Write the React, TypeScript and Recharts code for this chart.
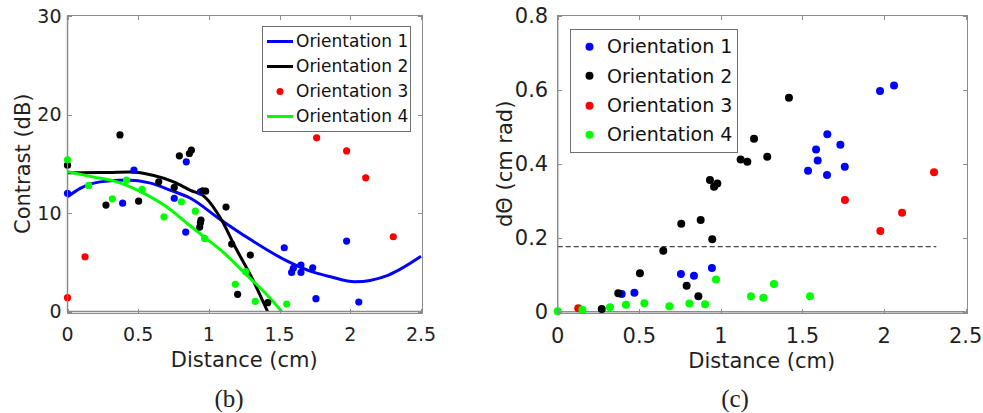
import { ComposedChart, Legend, Line, Scatter, XAxis, YAxis } from "recharts";

// ---- panel (b): contrast vs distance ----
const CONTRAST_O1 = [
    [0, 12.0], [0.39, 11.0], [0.47, 14.35], [0.755, 11.5], [0.836, 8.06], [0.84, 15.2],
    [0.94, 12.15], [1.533, 6.47], [1.585, 3.97], [1.597, 4.38], [1.651, 4.72], [1.651, 3.97],
    [1.734, 4.44], [1.757, 1.3], [1.974, 7.15], [2.06, 0.96],
];
const CONTRAST_O2 = [
    [0, 14.86], [0.272, 10.8], [0.371, 17.93], [0.503, 11.2], [0.645, 13.16], [0.755, 12.6],
    [0.791, 15.8], [0.862, 16.04], [0.876, 16.38], [0.935, 8.57], [0.94, 9.0], [0.944, 9.28],
    [0.956, 12.25], [0.977, 12.22], [1.121, 10.6], [1.161, 6.85], [1.203, 1.74], [1.293, 5.73],
    [1.416, 0.9],
];
const CONTRAST_O3 = [
    [0, 1.4], [0.124, 5.56], [1.762, 17.63], [1.974, 16.3], [2.109, 13.57], [2.304, 7.59],
];
const CONTRAST_O4 = [
    [0, 15.4], [0.15, 12.8], [0.317, 11.44], [0.418, 13.34], [0.527, 12.39], [0.682, 9.61],
    [0.805, 11.14], [0.904, 10.19], [0.97, 7.42], [1.187, 2.76], [1.26, 4.04], [1.328, 1.03],
    [1.55, 0.76],
];
// fitted curves
const FIT_O1 = [
    [0, 11.64], [0.09, 12.5], [0.23, 13.16], [0.42, 13.34], [0.58, 13.06], [0.73, 12.3],
    [0.87, 11.5], [1.07, 9.45], [1.3, 7.25], [1.54, 5.22], [1.75, 3.94], [1.86, 3.53],
    [2.03, 3.02], [2.27, 3.7], [2.5, 5.6],
];
const FIT_O2 = [
    [0, 14.08], [0.23, 14.1], [0.44, 14.15], [0.61, 13.8], [0.75, 13.16], [0.87, 12.3],
    [0.97, 11.64], [1.09, 9.28], [1.185, 6.57], [1.3, 3.53], [1.415, 0],
];
const FIT_O4 = [
    [0, 14.2], [0.18, 13.67], [0.35, 13.16], [0.54, 11.99], [0.7, 10.63], [0.85, 8.9],
    [0.97, 7.52], [1.11, 5.9], [1.255, 3.87], [1.4, 1.85], [1.515, 0],
];

// ---- panel (c): dTheta vs distance ----
const THETA_O1 = [
    [0.392, 0.048], [0.47, 0.051], [0.755, 0.102], [0.835, 0.097], [0.945, 0.118],
    [1.534, 0.381], [1.583, 0.439], [1.593, 0.409], [1.65, 0.37], [1.652, 0.48],
    [1.732, 0.452], [1.759, 0.392], [1.975, 0.597], [2.061, 0.612],
];
const THETA_O2 = [
    [0.27, 0.007], [0.371, 0.05], [0.504, 0.104], [0.647, 0.165], [0.757, 0.238], [0.79, 0.07],
    [0.862, 0.042], [0.876, 0.248], [0.933, 0.356], [0.947, 0.196], [0.958, 0.338],
    [0.978, 0.347], [1.121, 0.412], [1.162, 0.406], [1.203, 0.468], [1.284, 0.419],
    [1.417, 0.579],
];
const THETA_O3 = [
    [0.126, 0.009], [1.76, 0.302], [1.977, 0.218], [2.11, 0.268], [2.306, 0.377],
];
const THETA_O4 = [
    [0, 0.001], [0.151, 0.005], [0.32, 0.012], [0.418, 0.019], [0.531, 0.023], [0.684, 0.015],
    [0.807, 0.022], [0.903, 0.02], [0.97, 0.087], [1.184, 0.042], [1.26, 0.038],
    [1.325, 0.075], [1.546, 0.042],
];
const THRESHOLD = [[0, 0.176], [2.32, 0.176]];

const X_TICKS = [0, 0.5, 1, 1.5, 2, 2.5];
const CONTRAST_TICKS = [0, 10, 20, 30];
const THETA_TICKS = [0, 0.2, 0.4, 0.6, 0.8];

const NAMES = ["Orientation 1", "Orientation 2", "Orientation 3", "Orientation 4"];
const COLORS = ["#0000ff", "#000000", "#ff0000", "#00ff00"];

const FONT = "'DejaVu Sans', sans-serif";
const AXIS_GRAY = "#8c8c8c";
const TEXT = "#1f1f1f";

const pts = (rows: number[][]) => rows.map(([x, y]) => ({ x, y }));

const dot = (r: number, fill: string) => (p: any) =>
    <circle cx={p.cx} cy={p.cy} r={r} fill={fill} />;

// plot rectangles; chart margins are derived from these
type Plot = { w: number; h: number; left: number; top: number; right: number; bottom: number; yAxisW: number; xAxisH: number };
const PLOT_B: Plot = { w: 440, h: 413, left: 67.5, top: 16, right: 421, bottom: 311.5, yAxisW: 60, xAxisH: 30 };
const PLOT_C: Plot = { w: 503, h: 413, left: 77.7, top: 16, right: 485.7, bottom: 311.7, yAxisW: 70, xAxisH: 30 };

const marginOf = (p: Plot) => ({
    top: p.top,
    right: p.w - p.right,
    bottom: p.h - p.bottom - p.xAxisH,
    left: p.left - p.yAxisW,
});

// matlab style box (html border) with inward ticks
function Frame({ p, yMax, yTicks }: { p: Plot; yMax: number; yTicks: number[] }) {
    const t = 4;
    const w = p.right - p.left;
    const h = p.bottom - p.top;
    const tick = (style: Record<string, number>, horizontal: boolean, key: string) => (
        <div key={key} style={{ position: "absolute", background: AXIS_GRAY, width: horizontal ? t : 1, height: horizontal ? 1 : t, ...style }} />
    );
    return (
        <div style={{ position: "absolute", left: p.left - 1, top: p.top - 1, width: w + 1, height: h + 1, border: `1px solid ${AXIS_GRAY}`, pointerEvents: "none", zIndex: 2 }}>
            {X_TICKS.map((v) => {
                const x = (v / 2.5) * w;
                return [
                    tick({ left: x, bottom: 0 }, false, `xb${v}`),
                    tick({ left: x, top: 0 }, false, `xt${v}`),
                ];
            })}
            {yTicks.map((v) => {
                const y = h - (v / yMax) * h;
                return [
                    tick({ left: 0, top: y }, true, `yl${v}`),
                    tick({ right: 0, top: y }, true, `yr${v}`),
                ];
            })}
        </div>
    );
}

type LegendRow = { name: string; color: string; kind: "line" | "dot" };

function LegendBox({ rows, fontSize, rowH, iconW, dotR }: { rows: LegendRow[]; fontSize: number; rowH: number; iconW: number; dotR: number }) {
    return (
        <div style={{ background: "#fff", border: "1px solid #6f6f6f", padding: "2px 4px 2px 3px", fontFamily: FONT, fontSize, color: "#111", lineHeight: 1 }}>
            {rows.map((r) => (
                <div key={r.name} style={{ display: "flex", alignItems: "center", height: rowH, whiteSpace: "nowrap" }}>
                    <svg width={iconW} height={rowH} style={{ flex: "none" }}>
                        {r.kind === "line" ? (
                            <line x1={1} x2={iconW - 3} y1={rowH / 2} y2={rowH / 2} stroke={r.color} strokeWidth={3} />
                        ) : (
                            <circle cx={(iconW - 2) / 2} cy={rowH / 2} r={dotR} fill={r.color} />
                        )}
                    </svg>
                    <span>{r.name}</span>
                </div>
            ))}
        </div>
    );
}

function ContrastPanel() {
    const rows: LegendRow[] = NAMES.map((name, i) => ({ name, color: COLORS[i], kind: i === 2 ? "dot" : "line" }));
    const series = [CONTRAST_O1, CONTRAST_O2, CONTRAST_O3, CONTRAST_O4];
    const fits = [FIT_O1, FIT_O2, null, FIT_O4];
    const p = PLOT_B;
    return (
        <div style={{ position: "relative", width: p.w, height: p.h }}>
            <ComposedChart width={p.w} height={p.h} margin={marginOf(p)}>
                <XAxis
                    dataKey="x" type="number" domain={[0, 2.5]} ticks={X_TICKS}
                    height={p.xAxisH} tickSize={0} tickMargin={16} tickLine={false}
                    axisLine={{ stroke: AXIS_GRAY, strokeWidth: 1.5 }}
                    tick={{ fontSize: 19, fill: TEXT, fontFamily: FONT }}
                    label={{ value: "Distance (cm)", position: "bottom", offset: 11, fontSize: 21, fill: TEXT, fontFamily: FONT }}
                />
                <YAxis
                    dataKey="y" type="number" domain={[0, 30]} ticks={CONTRAST_TICKS}
                    width={p.yAxisW} tickSize={0} tickMargin={6} tickLine={false}
                    axisLine={{ stroke: AXIS_GRAY, strokeWidth: 1.5 }}
                    tick={{ fontSize: 19, fill: TEXT, fontFamily: FONT }}
                    label={{ value: "Contrast (dB)", angle: -90, position: "insideLeft", offset: 15.5, fontSize: 21, fill: TEXT, fontFamily: FONT, style: { textAnchor: "middle" } }}
                />
                {fits.map((f, i) =>
                    f ? (
                        <Line key={`fit${i}`} data={pts(f)} dataKey="y" type="monotone" stroke={COLORS[i]} strokeWidth={3}
                            dot={false} activeDot={false} isAnimationActive={false} />
                    ) : null
                )}
                {series.map((s, i) => (
                    <Scatter key={`pts${i}`} data={pts(s)} dataKey="y" fill={COLORS[i]} shape={dot(3.6, COLORS[i])} isAnimationActive={false} />
                ))}
                <Legend
                    layout="vertical" align="center" verticalAlign="middle"
                    wrapperStyle={{ left: 262, top: 26, width: 149, zIndex: 3 }}
                    content={() => <LegendBox rows={rows} fontSize={17} rowH={25} iconW={30} dotR={3.5} />}
                />
            </ComposedChart>
            <Frame p={p} yMax={30} yTicks={CONTRAST_TICKS} />
        </div>
    );
}

function ThetaPanel() {
    const rows: LegendRow[] = NAMES.map((name, i) => ({ name, color: COLORS[i], kind: "dot" }));
    const series = [THETA_O1, THETA_O2, THETA_O3, THETA_O4];
    const p = PLOT_C;
    return (
        <div style={{ position: "relative", width: p.w, height: p.h }}>
            <ComposedChart width={p.w} height={p.h} margin={marginOf(p)}>
                <XAxis
                    dataKey="x" type="number" domain={[0, 2.5]} ticks={X_TICKS}
                    height={p.xAxisH} tickSize={0} tickMargin={16} tickLine={false}
                    axisLine={{ stroke: AXIS_GRAY, strokeWidth: 1.5 }}
                    tick={{ fontSize: 21, fill: TEXT, fontFamily: FONT }}
                    label={{ value: "Distance (cm)", position: "bottom", offset: 11, fontSize: 21, fill: TEXT, fontFamily: FONT }}
                />
                <YAxis
                    dataKey="y" type="number" domain={[0, 0.8]} ticks={THETA_TICKS}
                    width={p.yAxisW} tickSize={0} tickMargin={9.5} tickLine={false}
                    axisLine={{ stroke: AXIS_GRAY, strokeWidth: 1.5 }}
                    tick={{ fontSize: 21, fill: TEXT, fontFamily: FONT }}
                    tickFormatter={(v: number) => (v === 0 ? "0" : v.toFixed(1))}
                    label={{ value: "dΘ (cm rad)", angle: -90, position: "insideLeft", offset: 17.3, fontSize: 21, fill: TEXT, fontFamily: FONT, style: { textAnchor: "middle" } }}
                />
                <Line data={pts(THRESHOLD)} dataKey="y" type="linear" stroke="#444" strokeWidth={1.2}
                    strokeDasharray="5 3" dot={false} activeDot={false} isAnimationActive={false} />
                {series.map((s, i) => (
                    <Scatter key={`pts${i}`} data={pts(s)} dataKey="y" fill={COLORS[i]} shape={dot(4, COLORS[i])} isAnimationActive={false} />
                ))}
                <Legend
                    layout="vertical" align="center" verticalAlign="middle"
                    wrapperStyle={{ left: 90, top: 29, width: 168, zIndex: 3 }}
                    content={() => <LegendBox rows={rows} fontSize={19} rowH={29.4} iconW={33} dotR={4} />}
                />
            </ComposedChart>
            <Frame p={p} yMax={0.8} yTicks={THETA_TICKS} />
        </div>
    );
}

const captionStyle = {
    position: "absolute" as const,
    width: 60,
    textAlign: "center" as const,
    fontFamily: "'Liberation Serif', serif",
    fontSize: 25,
    lineHeight: "28px",
    color: "#222",
};

export default function App() {
    return (
        <div style={{ position: "absolute", left: 0, top: 0, width: 983, height: 413, background: "#fff", overflow: "hidden" }}>
            <div style={{ position: "absolute", left: 0, top: 0 }}>
                <ContrastPanel />
            </div>
            <div style={{ position: "absolute", left: 480, top: 0 }}>
                <ThetaPanel />
            </div>
            <div style={{ ...captionStyle, left: 199, top: 385 }}>(b)</div>
            <div style={{ ...captionStyle, left: 705, top: 385 }}>(c)</div>
        </div>
    );
}
